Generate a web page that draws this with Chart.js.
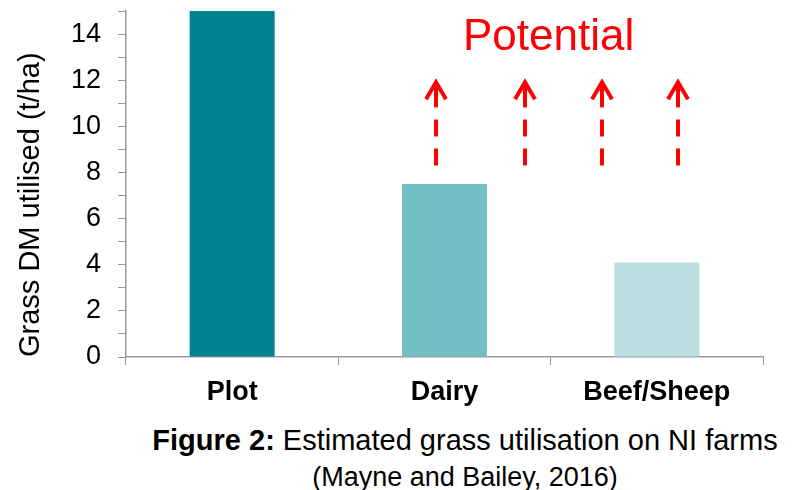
<!DOCTYPE html>
<html lang="en">

<head>
    <meta charset="UTF-8" />
    <title>Estimated grass utilisation on NI farms</title>
    <script src="https://cdn.jsdelivr.net/npm/chart.js"></script>
    <style>
        body { margin: 0; background: #fff; font-family: "Liberation Sans", Arial, sans-serif; }
        #wrap { position: relative; width: 799px; height: 490px; }
        #box { position: absolute; left: 0; top: 0; width: 799px; height: 420px; }
        .cap { position: absolute; left: 130px; width: 670px; text-align: center; color: #000; white-space: nowrap; }
        #cap1 { top: 423px; font-size: 29px; line-height: 34px; }
        #cap2 { top: 461px; font-size: 27px; line-height: 32px; }
    </style>
</head>

<body>
    <div id="wrap">
        <div id="box"><canvas id="grafica"></canvas></div>
        <div id="cap1" class="cap"><b>Figure 2:</b> Estimated grass utilisation on NI farms</div>
        <div id="cap2" class="cap">(Mayne and Bailey, 2016)</div>
    </div>

    <script>
        // datos
        const categorias = ["Plot", "Dairy", "Beef/Sheep"];
        const valores = [15, 7.5, 4.1];
        const colores = ["#00828E", "#72BFC4", "#B9DFE3"];

        // flechas "Potential" (posicion en categorias, desde / hasta en t/ha)
        const flechasX = [0.96, 1.38, 1.74, 2.10];
        const flechaDesde = 8.3;
        const flechaHasta = 12.0;
        const textoPotencial = "Potential";
        const potencialX = 1.49;
        const potencialY = 13.3;

        const gris = "#9a9a9a";

        const flechas = {
            id: "flechas",
            afterDatasetsDraw(chart) {
                const ctx = chart.ctx;
                const x = chart.scales.x, y = chart.scales.y;
                ctx.save();
                ctx.strokeStyle = "#ff0000";
                ctx.fillStyle = "#ff0000";
                ctx.lineWidth = 4;
                const y0 = y.getPixelForValue(flechaDesde);
                const y1 = y.getPixelForValue(flechaHasta);
                flechasX.forEach(v => {
                    const px = Math.round(x.getPixelForValue(v));
                    // trazos
                    ctx.setLineDash([17, 12]);
                    ctx.beginPath();
                    ctx.moveTo(px, y0);
                    ctx.lineTo(px, y1 + 27);
                    ctx.stroke();
                    ctx.setLineDash([]);
                    ctx.beginPath();
                    ctx.moveTo(px, y1 + 27);
                    ctx.lineTo(px, y1 + 2);
                    ctx.stroke();
                    // punta
                    ctx.beginPath();
                    ctx.moveTo(px - 10, y1 + 19);
                    ctx.lineTo(px, y1 + 2);
                    ctx.lineTo(px + 10, y1 + 19);
                    ctx.stroke();
                });
                ctx.font = "44px 'Liberation Sans', Arial, sans-serif";
                ctx.textAlign = "center";
                ctx.textBaseline = "alphabetic";
                ctx.fillText(textoPotencial, x.getPixelForValue(potencialX), y.getPixelForValue(potencialY));
                ctx.restore();
            }
        };

        new Chart(document.getElementById("grafica"), {
            type: "bar",
            data: {
                labels: categorias,
                datasets: [{
                    data: valores,
                    backgroundColor: colores,
                    barPercentage: 0.4,
                    categoryPercentage: 1
                }]
            },
            options: {
                responsive: true,
                maintainAspectRatio: false,
                animation: false,
                layout: { padding: { top: 11, right: 36, left: 0, bottom: 0 } },
                plugins: { legend: { display: false }, tooltip: { enabled: false } },
                scales: {
                    x: {
                        afterFit: s => { s.height = 63; s.paddingRight = 0; s.paddingLeft = 0; },
                        grid: { offset: true, drawOnChartArea: false, tickLength: 8, color: gris, tickColor: gris },
                        border: { color: gris, width: 1.5 },
                        ticks: {
                            color: "#000",
                            padding: 11,
                            font: { family: "'Liberation Sans', Arial, sans-serif", size: 27, weight: "bold" }
                        }
                    },
                    y: {
                        min: 0,
                        max: 15,
                        afterFit: s => { s.width = 126; s.paddingTop = 0; s.paddingBottom = 0; },
                        grid: { drawOnChartArea: false, tickLength: 8, color: gris, tickColor: gris },
                        border: { color: gris, width: 1.5 },
                        ticks: {
                            stepSize: 1,
                            autoSkip: false,
                            color: "#000",
                            padding: 17,
                            font: { family: "'Liberation Sans', Arial, sans-serif", size: 27 },
                            callback: v => (v % 2 === 0 ? v : "")
                        },
                        title: {
                            display: true,
                            text: "Grass DM utilised (t/ha)",
                            align: "start",
                            color: "#000",
                            padding: { top: 14, bottom: 0 },
                            font: { family: "'Liberation Sans', Arial, sans-serif", size: 29 }
                        }
                    }
                }
            },
            plugins: [flechas]
        });
    </script>
</body>

</html>
